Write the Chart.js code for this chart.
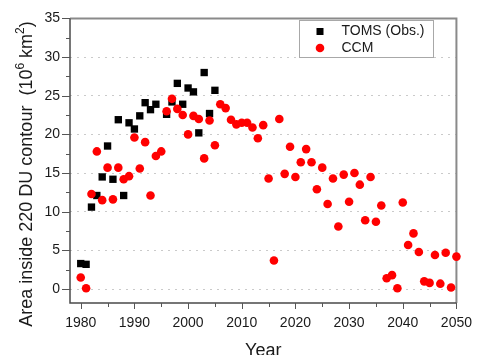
<!DOCTYPE html>
<html lang="en">
<head>
<meta charset="utf-8">
<title>Area inside 220 DU contour</title>
<script src="https://cdn.jsdelivr.net/npm/chart.js"></script>
<style>
  html, body { margin: 0; padding: 0; background: #fff; }
  #wrap { width: 484px; height: 355px; position: relative; }
</style>
</head>
<body>
<div id="wrap"><canvas id="myChart"></canvas></div>

<script>
// observations (TOMS) - no data in 1995
const tomsYears = [1980, 1981, 1982, 1983, 1984, 1985, 1986, 1987, 1988, 1989, 1990, 1991, 1992,
                   1993, 1994, 1996, 1997, 1998, 1999, 2000, 2001, 2002, 2003, 2004, 2005];
const tomsArea  = [3.3, 3.2, 10.6, 12.1, 14.5, 18.5, 14.2, 21.9, 12.1, 21.5, 20.7, 22.4, 24.1,
                   23.2, 23.9, 22.6, 24.2, 26.6, 23.9, 26.0, 25.5, 20.2, 28.0, 22.7, 25.7];

// model run (CCM)
const ccmYears = [1980, 1981, 1982, 1983, 1984, 1985, 1986, 1987, 1988, 1989,
                  1990, 1991, 1992, 1993, 1994, 1995, 1996, 1997, 1998, 1999,
                  2000, 2001, 2002, 2003, 2004, 2005, 2006, 2007, 2008, 2009,
                  2010, 2011, 2012, 2013, 2014, 2015, 2016, 2017, 2018, 2019,
                  2020, 2021, 2022, 2023, 2024, 2025, 2026, 2027, 2028, 2029,
                  2030, 2031, 2032, 2033, 2034, 2035, 2036, 2037, 2038, 2039,
                  2040, 2041, 2042, 2043, 2044, 2045, 2046, 2047, 2048, 2049, 2050];
const ccmArea  = [1.5, 0.1, 12.3, 17.8, 11.5, 15.7, 11.6, 15.7, 14.2, 14.6,
                  19.6, 15.6, 19.0, 12.1, 17.2, 17.8, 23.0, 24.6, 23.3, 22.5,
                  20.0, 22.4, 22.0, 16.9, 21.8, 18.6, 23.9, 23.4, 21.9, 21.3,
                  21.5, 21.5, 20.9, 19.5, 21.2, 14.3, 3.7, 22.0, 14.9, 18.4,
                  14.5, 16.4, 18.1, 16.4, 12.9, 15.7, 11.0, 14.3, 8.1, 14.8,
                  11.3, 15.0, 13.5, 8.9, 14.5, 8.7, 10.8, 1.4, 1.8, 0.1,
                  11.2, 5.7, 7.2, 4.8, 1.0, 0.8, 4.4, 0.7, 4.7, 0.2, 4.2];

// axis ticks
const xTickLabels = [1980, 1990, 2000, 2010, 2020, 2030, 2040, 2050];
const xMinorTicks = [1985, 1995, 2005, 2015, 2025, 2035, 2045];
const yTickLabels = [0, 5, 10, 15, 20, 25, 30, 35];
const yMinorTicks = [2.5, 7.5, 12.5, 17.5, 22.5, 27.5, 32.5];

const seriesNames = ['TOMS (Obs.)', 'CCM'];

const FONT = '"Liberation Sans", Arial, sans-serif';

function toPoints(xs, ys) {
	return xs.map((x, i) => ({ x: x, y: ys[i] }));
}

// box, tick marks, axis titles and legend
const decorations = {
	id: 'decorations',
	beforeDatasetsDraw(chart) {
		const ctx = chart.ctx;
		const a = chart.chartArea;
		const xs = chart.scales.x, ys = chart.scales.y;
		ctx.save();

		// top and right border
		ctx.strokeStyle = '#8a8a8a';
		ctx.lineWidth = 2;
		ctx.beginPath();
		ctx.moveTo(a.left, a.top);
		ctx.lineTo(a.right, a.top);
		ctx.lineTo(a.right, a.bottom);
		ctx.stroke();

		// axes
		ctx.strokeStyle = '#4a4a4a';
		ctx.lineWidth = 1.5;
		ctx.beginPath();
		ctx.moveTo(a.left, a.top);
		ctx.lineTo(a.left, a.bottom);
		ctx.lineTo(a.right, a.bottom);
		ctx.stroke();

		// tick marks
		ctx.lineWidth = 1;
		ctx.strokeStyle = '#555';
		ctx.beginPath();
		xTickLabels.forEach(v => {
			const px = Math.round(xs.getPixelForValue(v)) + 0.5;
			ctx.moveTo(px, a.bottom); ctx.lineTo(px, a.bottom + 6);
		});
		xMinorTicks.forEach(v => {
			const px = Math.round(xs.getPixelForValue(v)) + 0.5;
			ctx.moveTo(px, a.bottom); ctx.lineTo(px, a.bottom + 4);
		});
		yTickLabels.forEach(v => {
			const py = Math.round(ys.getPixelForValue(v)) + 0.5;
			ctx.moveTo(a.left, py); ctx.lineTo(a.left - 8, py);
		});
		yMinorTicks.forEach(v => {
			const py = Math.round(ys.getPixelForValue(v)) + 0.5;
			ctx.moveTo(a.left, py); ctx.lineTo(a.left - 4, py);
		});
		ctx.stroke();
		ctx.restore();
	},
	afterDraw(chart) {
		const ctx = chart.ctx;
		const a = chart.chartArea;
		ctx.save();
		ctx.fillStyle = '#1a1a1a';

		// x title
		ctx.font = '18px ' + FONT;
		ctx.textAlign = 'center';
		ctx.textBaseline = 'alphabetic';
		ctx.fillText('Year', (a.left + a.right) / 2, 356);

		// y title with superscripts
		const parts = [
			{ t: 'Area inside 220 DU contour  (10', sup: false },
			{ t: '6', sup: true },
			{ t: ' km', sup: false },
			{ t: '2', sup: true },
			{ t: ')', sup: false }
		];
		const big = '18px ' + FONT, small = '12px ' + FONT;
		let total = 0;
		parts.forEach(p => {
			ctx.font = p.sup ? small : big;
			p.w = ctx.measureText(p.t).width;
			total += p.w;
		});
		ctx.translate(25.5, 174);
		ctx.rotate(-Math.PI / 2);
		ctx.textAlign = 'left';
		let cx = -total / 2;
		parts.forEach(p => {
			ctx.font = p.sup ? small : big;
			ctx.fillText(p.t, cx, p.sup ? -1.5 : 6.3);
			cx += p.w;
		});
		ctx.setTransform(1, 0, 0, 1, 0, 0);

		// legend
		ctx.fillStyle = '#fff';
		ctx.fillRect(299.5, 20.5, 134, 37);
		ctx.strokeStyle = '#a8a8a8';
		ctx.lineWidth = 1;
		ctx.strokeRect(299.5, 20.5, 134, 37);

		const ds = chart.data.datasets;
		ctx.fillStyle = ds[0].backgroundColor;
		ctx.fillRect(316.5, 28, 7, 7);
		ctx.fillStyle = ds[1].backgroundColor;
		ctx.beginPath();
		ctx.arc(320, 48, 4.3, 0, Math.PI * 2);
		ctx.fill();

		ctx.fillStyle = '#1a1a1a';
		ctx.font = '14px ' + FONT;
		ctx.textAlign = 'left';
		ctx.textBaseline = 'middle';
		ctx.fillText(ds[0].label, 341.5, 31.5);
		ctx.fillText(ds[1].label, 341.5, 48.5);
		ctx.restore();
	}
};

const canvas_chart = document.getElementById('myChart');

const myChart = new Chart(canvas_chart, {
	type: 'scatter',
	data: {
		datasets: [
			{
				label: seriesNames[0],
				data: toPoints(tomsYears, tomsArea),
				pointStyle: 'rect',
				pointRadius: 5.2,
				pointHoverRadius: 5.2,
				backgroundColor: '#000000',
				borderWidth: 0,
				order: 2,
				clip: false
			},
			{
				label: seriesNames[1],
				data: toPoints(ccmYears, ccmArea),
				pointStyle: 'circle',
				pointRadius: 4.3,
				pointHoverRadius: 4.3,
				backgroundColor: '#ff0000',
				borderWidth: 0,
				order: 1,
				clip: false
			}
		]
	},
	options: {
		responsive: true,
		maintainAspectRatio: false,
		animation: false,
		events: [],
		layout: { padding: { top: 16, right: 20, left: 0, bottom: 0 } },
		plugins: {
			legend: { display: false },
			tooltip: { enabled: false }
		},
		scales: {
			x: {
				type: 'linear',
				min: 1978,
				max: 2050,
				afterBuildTicks: s => { s.ticks = xTickLabels.map(v => ({ value: v })); },
				afterFit: s => { s.height = 52; },
				grid: { display: false, drawTicks: false },
				border: { display: false },
				ticks: {
					padding: 12,
					maxRotation: 0,
					autoSkip: false,
					color: '#1a1a1a',
					font: { family: FONT, size: 14 },
					callback: v => String(v)
				}
			},
			y: {
				type: 'linear',
				min: -1.8,
				max: 35,
				afterBuildTicks: s => { s.ticks = yTickLabels.map(v => ({ value: v })); },
				afterFit: s => { s.width = 70; },
				grid: { color: '#cacaca', lineWidth: 1, drawTicks: false },
				border: { display: false, dash: [2, 5] },
				ticks: {
					padding: 10,
					color: '#1a1a1a',
					font: { family: FONT, size: 14 },
					callback: v => String(v)
				}
			}
		}
	},
	plugins: [decorations]
});
</script>
</body>
</html>
